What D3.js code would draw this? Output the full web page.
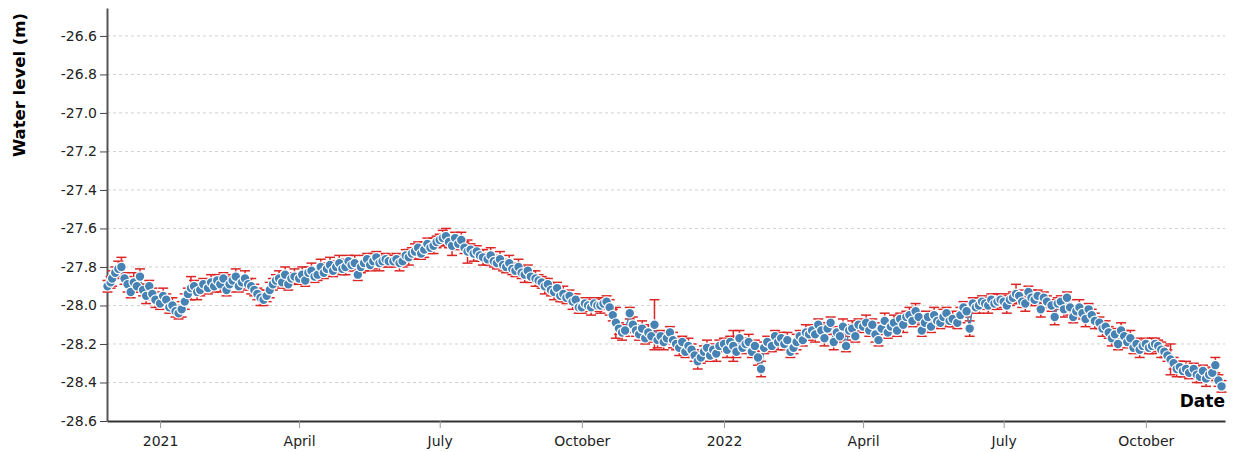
<!DOCTYPE html>
<html>
<head>
<meta charset="utf-8">
<script src="https://cdn.jsdelivr.net/npm/d3@7"></script>
<style>
body { margin: 0; background: #fff; }
svg text { font-family: "DejaVu Sans", Verdana, sans-serif; }
</style>
</head>
<body>
<svg id="chart" width="1235" height="452"></svg>
<script>
const dates = [
  "2020-11-28","2020-11-30",
  "2020-12-01","2020-12-03","2020-12-05","2020-12-07","2020-12-09","2020-12-11","2020-12-13","2020-12-15","2020-12-17","2020-12-19","2020-12-21","2020-12-23","2020-12-25","2020-12-27","2020-12-29",
  "2021-01-01","2021-01-03","2021-01-05","2021-01-07","2021-01-09","2021-01-11","2021-01-13","2021-01-15","2021-01-17","2021-01-19","2021-01-21","2021-01-23","2021-01-25","2021-01-27","2021-01-29",
  "2021-02-01","2021-02-03","2021-02-05","2021-02-07","2021-02-09","2021-02-11","2021-02-13","2021-02-15","2021-02-17","2021-02-19","2021-02-21","2021-02-23","2021-02-25","2021-02-27",
  "2021-03-01","2021-03-03","2021-03-05","2021-03-07","2021-03-09","2021-03-11","2021-03-13","2021-03-15","2021-03-17","2021-03-19","2021-03-21","2021-03-23","2021-03-25","2021-03-27","2021-03-29",
  "2021-04-01","2021-04-03","2021-04-05","2021-04-07","2021-04-09","2021-04-11","2021-04-13","2021-04-15","2021-04-17","2021-04-19","2021-04-21","2021-04-23","2021-04-25","2021-04-27","2021-04-29",
  "2021-05-01","2021-05-03","2021-05-05","2021-05-07","2021-05-09","2021-05-11","2021-05-13","2021-05-15","2021-05-17","2021-05-19","2021-05-21","2021-05-23","2021-05-25","2021-05-27","2021-05-29",
  "2021-06-01","2021-06-03","2021-06-05","2021-06-07","2021-06-09","2021-06-11","2021-06-13","2021-06-15","2021-06-17","2021-06-19","2021-06-21","2021-06-23","2021-06-25","2021-06-27","2021-06-29",
  "2021-07-01","2021-07-03","2021-07-05","2021-07-07","2021-07-09","2021-07-11","2021-07-13","2021-07-15","2021-07-17","2021-07-19","2021-07-21","2021-07-23","2021-07-25","2021-07-27","2021-07-29",
  "2021-08-01","2021-08-03","2021-08-05","2021-08-07","2021-08-09","2021-08-11","2021-08-13","2021-08-15","2021-08-17","2021-08-19","2021-08-21","2021-08-23","2021-08-25","2021-08-27","2021-08-29",
  "2021-09-01","2021-09-03","2021-09-05","2021-09-07","2021-09-09","2021-09-11","2021-09-13","2021-09-15","2021-09-17","2021-09-19","2021-09-21","2021-09-23","2021-09-25","2021-09-27","2021-09-29",
  "2021-10-01","2021-10-03","2021-10-05","2021-10-07","2021-10-09","2021-10-11","2021-10-13","2021-10-15","2021-10-17","2021-10-19","2021-10-21","2021-10-23","2021-10-25","2021-10-27","2021-10-29",
  "2021-11-01","2021-11-03","2021-11-05","2021-11-07","2021-11-09","2021-11-11","2021-11-13","2021-11-15","2021-11-17","2021-11-19","2021-11-21","2021-11-23","2021-11-25","2021-11-27","2021-11-29",
  "2021-12-01","2021-12-03","2021-12-05","2021-12-07","2021-12-09","2021-12-11","2021-12-13","2021-12-15","2021-12-17","2021-12-19","2021-12-21","2021-12-23","2021-12-25","2021-12-27","2021-12-29",
  "2022-01-01","2022-01-03","2022-01-05","2022-01-07","2022-01-09","2022-01-11","2022-01-13","2022-01-15","2022-01-17","2022-01-19","2022-01-21","2022-01-23","2022-01-25","2022-01-27","2022-01-29",
  "2022-02-01","2022-02-03","2022-02-05","2022-02-07","2022-02-09","2022-02-11","2022-02-13","2022-02-15","2022-02-17","2022-02-19","2022-02-21","2022-02-23","2022-02-25","2022-02-27",
  "2022-03-01","2022-03-03","2022-03-05","2022-03-07","2022-03-09","2022-03-11","2022-03-13","2022-03-15","2022-03-17","2022-03-19","2022-03-21","2022-03-23","2022-03-25","2022-03-27","2022-03-29",
  "2022-04-01","2022-04-03","2022-04-05","2022-04-07","2022-04-09","2022-04-11","2022-04-13","2022-04-15","2022-04-17","2022-04-19","2022-04-21","2022-04-23","2022-04-25","2022-04-27","2022-04-29",
  "2022-05-01","2022-05-03","2022-05-05","2022-05-07","2022-05-09","2022-05-11","2022-05-13","2022-05-15","2022-05-17","2022-05-19","2022-05-21","2022-05-23","2022-05-25","2022-05-27","2022-05-29",
  "2022-06-01","2022-06-03","2022-06-05","2022-06-07","2022-06-09","2022-06-11","2022-06-13","2022-06-15","2022-06-17","2022-06-19","2022-06-21","2022-06-23","2022-06-25","2022-06-27","2022-06-29",
  "2022-07-01","2022-07-03","2022-07-05","2022-07-07","2022-07-09","2022-07-11","2022-07-13","2022-07-15","2022-07-17","2022-07-19","2022-07-21","2022-07-23","2022-07-25","2022-07-27","2022-07-29",
  "2022-08-01","2022-08-03","2022-08-05","2022-08-07","2022-08-09","2022-08-11","2022-08-13","2022-08-15","2022-08-17","2022-08-19","2022-08-21","2022-08-23","2022-08-25","2022-08-27","2022-08-29",
  "2022-09-01","2022-09-03","2022-09-05","2022-09-07","2022-09-09","2022-09-11","2022-09-13","2022-09-15","2022-09-17","2022-09-19","2022-09-21","2022-09-23","2022-09-25","2022-09-27","2022-09-29",
  "2022-10-01","2022-10-03","2022-10-05","2022-10-07","2022-10-09","2022-10-11","2022-10-13","2022-10-15","2022-10-17","2022-10-19","2022-10-21","2022-10-23","2022-10-25","2022-10-27","2022-10-29",
  "2022-11-01","2022-11-03","2022-11-05","2022-11-07","2022-11-09","2022-11-11","2022-11-13","2022-11-15","2022-11-17","2022-11-19"
];

// water level (m), one row per month
const levels = [
  -27.90, -27.88,
  -27.86, -27.83, -27.81, -27.80, -27.86, -27.89, -27.93, -27.88, -27.90, -27.85, -27.92, -27.95, -27.90, -27.94, -27.97,
  -27.99, -27.95, -27.97, -28.01, -28.00, -28.03, -28.04, -28.02, -27.98, -27.94, -27.91, -27.90, -27.93, -27.92, -27.89,
  -27.91, -27.88, -27.90, -27.87, -27.89, -27.86, -27.92, -27.89, -27.87, -27.85, -27.90, -27.88, -27.86, -27.89,
  -27.90, -27.92, -27.94, -27.96, -27.97, -27.95, -27.92, -27.89, -27.87, -27.86, -27.88, -27.84, -27.89, -27.86, -27.85,
  -27.86, -27.84, -27.87, -27.83, -27.82, -27.85, -27.84, -27.80, -27.83, -27.81, -27.79, -27.82, -27.80, -27.78, -27.81,
  -27.80, -27.77, -27.79, -27.78, -27.84, -27.80, -27.78, -27.76, -27.79, -27.77, -27.75, -27.78, -27.77, -27.76, -27.77,
  -27.77, -27.76, -27.78, -27.77, -27.74, -27.75, -27.73, -27.72, -27.70, -27.73, -27.71, -27.68, -27.70, -27.69, -27.67,
  -27.66, -27.65, -27.64, -27.67, -27.69, -27.65, -27.68, -27.66, -27.70, -27.72, -27.71, -27.73, -27.72, -27.74, -27.75,
  -27.76, -27.74, -27.77, -27.78, -27.76, -27.79, -27.80, -27.78, -27.81, -27.82, -27.80, -27.83, -27.84, -27.82, -27.85,
  -27.86, -27.87, -27.88, -27.90, -27.89, -27.92, -27.93, -27.91, -27.95, -27.94, -27.96, -27.95, -27.98, -27.97, -28.01,
  -28.01, -27.99, -28.00, -28.01, -27.99, -28.00, -28.00, -27.99, -27.98, -28.01, -28.05, -28.09, -28.12, -28.14, -28.13,
  -28.04, -28.10, -28.13, -28.15, -28.12, -28.17, -28.14, -28.16, -28.10, -28.18, -28.16, -28.19, -28.17, -28.14, -28.18,
  -28.20, -28.22, -28.19, -28.24, -28.21, -28.23, -28.26, -28.29, -28.27, -28.24, -28.22, -28.26, -28.23, -28.25, -28.21,
  -28.20, -28.23, -28.19, -28.21, -28.24, -28.17, -28.22, -28.20, -28.19, -28.24, -28.21, -28.27, -28.33, -28.22, -28.19,
  -28.21, -28.16, -28.19, -28.17, -28.20, -28.18, -28.24, -28.22, -28.19, -28.16, -28.18, -28.14, -28.15, -28.13,
  -28.15, -28.10, -28.13, -28.17, -28.12, -28.09, -28.19, -28.14, -28.16, -28.11, -28.21, -28.13, -28.12, -28.16, -28.10,
  -28.11, -28.09, -28.13, -28.10, -28.15, -28.18, -28.12, -28.08, -28.14, -28.11, -28.09, -28.13, -28.07, -28.10, -28.06,
  -28.05, -28.08, -28.03, -28.06, -28.13, -28.09, -28.06, -28.11, -28.05, -28.08, -28.09, -28.06, -28.04, -28.08, -28.07,
  -28.09, -28.05, -28.01, -28.03, -28.12, -27.99, -28.01, -28.00, -27.98, -27.99, -28.00, -27.97, -27.99, -27.98, -27.97,
  -27.98, -28.00, -27.97, -27.96, -27.94, -27.95, -27.98, -27.99, -27.93, -27.96, -27.97, -27.95, -28.02, -27.96, -27.98,
  -28.00, -28.06, -27.99, -27.98, -28.02, -27.96, -28.01, -28.06, -28.03, -28.01, -28.04, -28.07, -28.02, -28.05, -28.08,
  -28.09, -28.12, -28.11, -28.14, -28.17, -28.15, -28.20, -28.13, -28.16, -28.19, -28.17, -28.22, -28.20, -28.23, -28.21,
  -28.20, -28.22, -28.21, -28.20, -28.21, -28.23, -28.24, -28.26, -28.28, -28.30, -28.33, -28.32, -28.34, -28.33, -28.35,
  -28.33, -28.36, -28.37, -28.34, -28.38, -28.36, -28.35, -28.31, -28.39, -28.42
];

// +/- uncertainty (m)
const errors = [
  0.03, 0.03,
  0.04, 0.03, 0.04, 0.05, 0.03, 0.04, 0.03, 0.05, 0.03, 0.04, 0.03, 0.04, 0.03, 0.03, 0.04,
  0.03, 0.04, 0.03, 0.03, 0.04, 0.03, 0.03, 0.04, 0.04, 0.03, 0.06, 0.03, 0.04, 0.03, 0.03,
  0.03, 0.04, 0.03, 0.03, 0.04, 0.03, 0.03, 0.04, 0.03, 0.04, 0.03, 0.03, 0.04, 0.03,
  0.04, 0.03, 0.03, 0.04, 0.03, 0.03, 0.04, 0.03, 0.03, 0.04, 0.03, 0.04, 0.03, 0.03, 0.04,
  0.03, 0.04, 0.03, 0.03, 0.04, 0.03, 0.03, 0.04, 0.03, 0.03, 0.04, 0.03, 0.03, 0.04, 0.03,
  0.04, 0.03, 0.03, 0.04, 0.03, 0.03, 0.04, 0.03, 0.03, 0.04, 0.03, 0.04, 0.03, 0.03, 0.03,
  0.03, 0.03, 0.04, 0.03, 0.03, 0.04, 0.03, 0.04, 0.03, 0.03, 0.04, 0.03, 0.03, 0.04, 0.03,
  0.03, 0.04, 0.04, 0.03, 0.05, 0.03, 0.03, 0.04, 0.03, 0.06, 0.03, 0.04, 0.03, 0.03, 0.04,
  0.03, 0.04, 0.03, 0.03, 0.04, 0.03, 0.03, 0.04, 0.03, 0.03, 0.04, 0.03, 0.04, 0.03, 0.03,
  0.04, 0.03, 0.03, 0.04, 0.03, 0.03, 0.04, 0.03, 0.03, 0.04, 0.03, 0.03, 0.04, 0.03, 0.03,
  0.03, 0.03, 0.03, 0.04, 0.03, 0.03, 0.04, 0.03, 0.03, 0.04, 0.03, 0.08, 0.03, 0.04, 0.03,
  0.03, 0.04, 0.03, 0.03, 0.04, 0.03, 0.04, 0.03, 0.13, 0.04, 0.03, 0.04, 0.03, 0.03, 0.04,
  0.03, 0.04, 0.03, 0.03, 0.04, 0.03, 0.03, 0.04, 0.03, 0.03, 0.04, 0.03, 0.03, 0.04, 0.03,
  0.03, 0.04, 0.03, 0.08, 0.03, 0.04, 0.03, 0.03, 0.04, 0.03, 0.03, 0.04, 0.04, 0.03, 0.03,
  0.03, 0.03, 0.04, 0.03, 0.03, 0.04, 0.03, 0.03, 0.04, 0.03, 0.03, 0.04, 0.03, 0.03,
  0.04, 0.03, 0.03, 0.04, 0.03, 0.03, 0.04, 0.03, 0.03, 0.04, 0.03, 0.03, 0.04, 0.03, 0.03,
  0.03, 0.04, 0.03, 0.03, 0.04, 0.03, 0.03, 0.04, 0.03, 0.03, 0.04, 0.03, 0.03, 0.04, 0.03,
  0.04, 0.03, 0.04, 0.03, 0.03, 0.04, 0.03, 0.03, 0.04, 0.03, 0.03, 0.04, 0.03, 0.03, 0.04,
  0.03, 0.04, 0.03, 0.03, 0.04, 0.03, 0.03, 0.04, 0.03, 0.03, 0.04, 0.03, 0.03, 0.04, 0.03,
  0.03, 0.04, 0.03, 0.03, 0.05, 0.03, 0.03, 0.04, 0.03, 0.04, 0.03, 0.03, 0.04, 0.03, 0.03,
  0.03, 0.04, 0.03, 0.03, 0.04, 0.03, 0.04, 0.03, 0.03, 0.04, 0.03, 0.04, 0.03, 0.03, 0.04,
  0.03, 0.04, 0.03, 0.03, 0.04, 0.03, 0.03, 0.04, 0.03, 0.03, 0.04, 0.03, 0.03, 0.04, 0.03,
  0.03, 0.03, 0.04, 0.03, 0.03, 0.04, 0.03, 0.03, 0.08, 0.03, 0.04, 0.03, 0.03, 0.04, 0.03,
  0.03, 0.04, 0.03, 0.03, 0.04, 0.03, 0.03, 0.04, 0.03, 0.03
];

const yTicks = [-28.6, -28.4, -28.2, -28.0, -27.8, -27.6, -27.4, -27.2, -27.0, -26.8, -26.6];
const xTicks = ["2021-01-01", "2021-04-01", "2021-07-01", "2021-10-01", "2022-01-01", "2022-04-01", "2022-07-01", "2022-10-01"];

const parseDate = d3.timeParse("%Y-%m-%d");
const data = dates.map((d, i) => ({ date: parseDate(d), level: levels[i], err: errors[i] }));

const svg = d3.select("#chart");
const plotLeft = 107, plotRight = 1225, plotTop = 8, plotBottom = 421;

const x = d3.scaleTime()
  .domain([new Date(2020, 10, 27, 16), new Date(2022, 10, 21, 6)])
  .range([plotLeft, plotRight]);
const y = d3.scaleLinear()
  .domain([-28.6, -26.455])
  .range([plotBottom, plotTop]);

// grid
svg.append("g")
  .selectAll("line")
  .data(yTicks.slice(1))
  .enter()
  .append("line")
  .attr("x1", plotLeft)
  .attr("x2", plotRight)
  .attr("y1", d => y(d))
  .attr("y2", d => y(d))
  .attr("stroke", "#d0d0d0")
  .attr("stroke-dasharray", "3,3");

// x axis
const xAxis = svg.append("g")
  .attr("transform", `translate(0,${plotBottom})`)
  .call(d3.axisBottom(x)
    .tickValues(xTicks.map(parseDate))
    .tickSize(7)
    .tickSizeOuter(0)
    .tickPadding(8));
xAxis.select(".domain").attr("stroke", "#333").attr("stroke-width", 2);
xAxis.selectAll(".tick line").attr("stroke", "#999");
xAxis.selectAll("text").attr("font-size", 14).attr("fill", "#222");

// y axis
const yAxis = svg.append("g")
  .attr("transform", `translate(${plotLeft},0)`)
  .call(d3.axisLeft(y)
    .tickValues(yTicks)
    .tickFormat(d => d.toFixed(1))
    .tickSize(7)
    .tickSizeOuter(0)
    .tickPadding(3));
yAxis.select(".domain").attr("stroke", "#555").attr("stroke-width", 2);
yAxis.selectAll(".tick line").attr("stroke", "#444");
yAxis.selectAll("text").attr("font-size", 14).attr("fill", "#222");

// error bars
const bars = svg.append("g")
  .attr("stroke", "#dc2626")
  .attr("stroke-width", 1.5)
  .selectAll("g")
  .data(data)
  .enter()
  .append("g");
bars.append("line")
  .attr("x1", d => x(d.date)).attr("x2", d => x(d.date))
  .attr("y1", d => y(d.level - d.err)).attr("y2", d => y(d.level + d.err));
bars.append("line")
  .attr("x1", d => x(d.date) - 5).attr("x2", d => x(d.date) + 5)
  .attr("y1", d => y(d.level + d.err)).attr("y2", d => y(d.level + d.err));
bars.append("line")
  .attr("x1", d => x(d.date) - 5).attr("x2", d => x(d.date) + 5)
  .attr("y1", d => y(d.level - d.err)).attr("y2", d => y(d.level - d.err));

// connecting line
svg.append("path")
  .datum(data)
  .attr("fill", "none")
  .attr("stroke", "steelblue")
  .attr("stroke-width", 1.5)
  .attr("d", d3.line().x(d => x(d.date)).y(d => y(d.level)));

// points
svg.append("g")
  .selectAll("circle")
  .data(data)
  .enter()
  .append("circle")
  .attr("cx", d => x(d.date))
  .attr("cy", d => y(d.level))
  .attr("r", 4.8)
  .attr("fill", "steelblue")
  .attr("stroke", "#fff")
  .attr("stroke-width", 1.2);

// labels
svg.append("text")
  .attr("transform", "translate(25,85) rotate(-90)")
  .attr("text-anchor", "middle")
  .attr("font-size", 16.5)
  .attr("font-weight", "bold")
  .attr("fill", "#000")
  .text("Water level (m)");

svg.append("text")
  .attr("x", plotRight)
  .attr("y", 407)
  .attr("text-anchor", "end")
  .attr("font-size", 17)
  .attr("font-weight", "bold")
  .attr("fill", "#000")
  .text("Date");
</script>
</body>
</html>
